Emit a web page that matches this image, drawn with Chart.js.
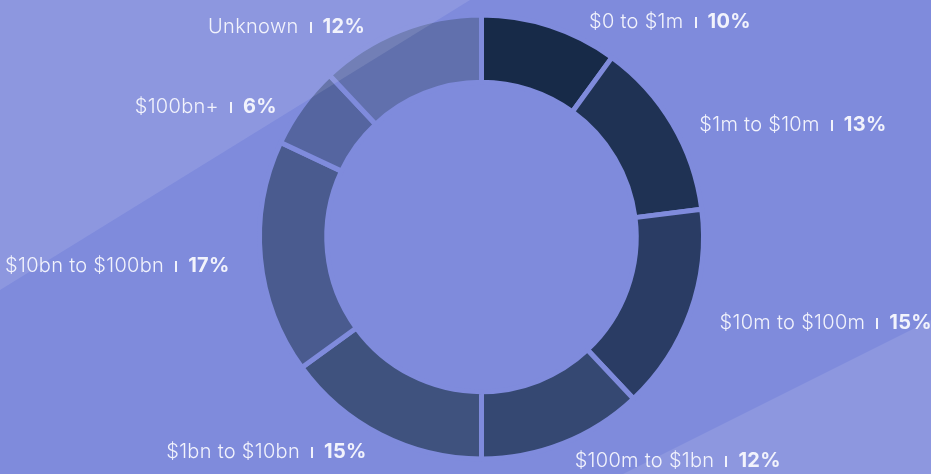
<!DOCTYPE html>
<html>
<head>
<meta charset="utf-8">
<script src="https://cdn.jsdelivr.net/npm/chart.js@4.4.0/dist/chart.umd.min.js"></script>
<style>
  html, body { margin: 0; padding: 0; background: #7f8bdc; }
  #wrap { width: 931px; height: 474px; }
</style>
</head>
<body>
<div id="wrap"><canvas id="myChart" width="931" height="474"></canvas></div>
<script>
const categories = ['$0 to $1m', '$1m to $10m', '$10m to $100m', '$100m to $1bn',
  '$1bn to $10bn', '$10bn to $100bn', '$100bn+', 'Unknown'];
const shares = [10, 13, 15, 12, 15, 17, 6, 12];
const colors = ['#172a48', '#1f3254', '#2a3c64', '#354872', '#3f527e', '#4a5b8f', '#5565a0', '#6170ad'];

const bgColor = '#7f8bdc';

// background + light diagonal bands
const backdrop = {
  id: 'backdrop',
  beforeDraw(chart) {
    const ctx = chart.ctx;
    ctx.save();
    ctx.fillStyle = bgColor;
    ctx.fillRect(0, 0, chart.width, chart.height);
    ctx.restore();
  },
  afterDatasetsDraw(chart) {
    const ctx = chart.ctx;
    const w = chart.width, h = chart.height;
    ctx.save();
    ctx.fillStyle = 'rgba(255,255,255,0.11)';
    ctx.beginPath();
    ctx.moveTo(0, 0);
    ctx.lineTo(470, 0);
    ctx.lineTo(0, 290);
    ctx.closePath();
    ctx.fill();
    ctx.beginPath();
    ctx.moveTo(w, 320);
    ctx.lineTo(w, h);
    ctx.lineTo(623, h);
    ctx.closePath();
    ctx.fill();
    ctx.restore();
  }
};

// outside labels "name | pct%"
const outLabels = {
  id: 'outLabels',
  afterDraw(chart) {
    const ctx = chart.ctx;
    const meta = chart.getDatasetMeta(0);
    ctx.save();
    ctx.textBaseline = 'alphabetic';
    ctx.textAlign = 'left';
    ctx.letterSpacing = '0.3px';
    meta.data.forEach((arc, i) => {
      const p = arc.getProps(['x', 'y', 'startAngle', 'endAngle', 'outerRadius'], true);
      const mid = (p.startAngle + p.endAngle) / 2;
      const right = Math.cos(mid) >= 0;
      const y = p.y + Math.sin(mid) * (p.outerRadius + 11) + 6;
      let dx = Math.abs(Math.cos(mid)) * (p.outerRadius + 31);
      // keep clear of the ring
      const clear = p.outerRadius + 10;
      const dy = Math.max(Math.abs(y - p.y) - 10, 0);
      if (dy < clear) dx = Math.max(dx, Math.sqrt(clear * clear - dy * dy));
      const x = p.x + (right ? dx : -dx);
      const base = Math.round(y + 7);

      const nameTxt = categories[i];
      const pctTxt = shares[i] + '%';
      ctx.font = '300 20px Inter';
      const w1 = ctx.measureText(nameTxt).width;
      ctx.font = '700 20px Inter';
      const w2 = ctx.measureText(pctTxt).width;
      const gap = 12;
      const total = w1 + gap * 2 + w2;
      const x0 = right ? x : x - total;
      ctx.fillStyle = '#f2f3fc';
      ctx.font = '300 20px Inter';
      ctx.fillText(nameTxt, x0, base);
      ctx.fillRect(Math.round(x0 + w1 + gap - 1), base - 11, 2, 11);
      ctx.font = '700 20px Inter';
      ctx.fillText(pctTxt, x0 + w1 + gap * 2, base);
    });
    ctx.restore();
  }
};

const config = {
  type: 'doughnut',
  data: {
    labels: categories,
    datasets: [{
      data: shares,
      backgroundColor: colors,
      borderColor: bgColor,
      borderWidth: 5,
      hoverOffset: 0
    }]
  },
  options: {
    responsive: false,
    animation: false,
    cutout: '69.7%',
    layout: { padding: { top: 12.5, bottom: 12.5, left: 32, right: 0 } },
    plugins: {
      legend: { display: false },
      tooltip: { enabled: false }
    }
  },
  plugins: [backdrop, outLabels]
};

const myChart = new Chart(document.getElementById('myChart'), config);
</script>
</body>
</html>
